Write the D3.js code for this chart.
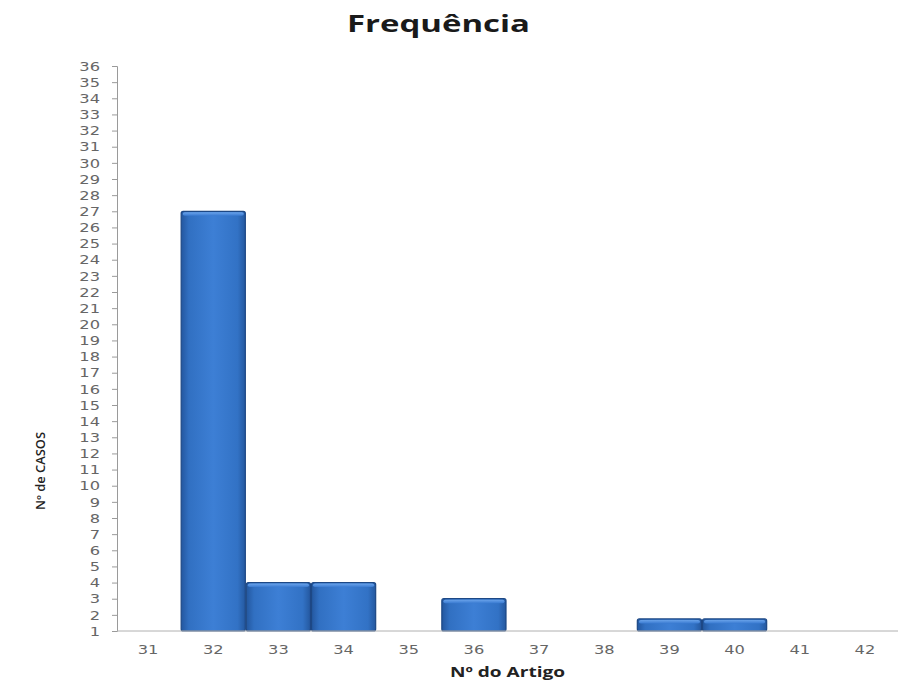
<!DOCTYPE html>
<html><head><meta charset="utf-8">
<script src="https://cdn.jsdelivr.net/npm/d3@7"></script>
<style>body{margin:0;background:#fff}svg{display:block}</style>
</head><body>
<svg id="c" width="912" height="693"></svg>
<script>
const categories = ["31","32","33","34","35","36","37","38","39","40","41","42"];
const values = [0, 27, 4, 4, 0, 3, 0, 0, 1.75, 1.75, 0, 0];
const yTicks = d3.range(1, 37);
const title = "Frequência";
const xTitle = "Nº do Artigo";
const yTitle = "Nº de CASOS";

const svg = d3.select("#c");
const x = d3.scaleBand().domain(categories).range([115.5, 897.5]).padding(0);
const y = d3.scaleLinear().domain([1, 36]).range([631, 66]);
const SX = 1.25;

const defs = svg.append("defs");
const g1 = defs.append("linearGradient").attr("id","bar").attr("x1","0").attr("x2","1").attr("y1","0").attr("y2","0");
[[0,"#23579f"],[0.12,"#3170c2"],[0.5,"#3d7fd5"],[0.88,"#3272c5"],[1,"#24589f"]].forEach(s=>g1.append("stop").attr("offset",s[0]).attr("stop-color",s[1]));
const g2 = defs.append("linearGradient").attr("id","top").attr("x1","0").attr("x2","0").attr("y1","0").attr("y2","1");
[[0,"#6aa3ea"],[1,"#3a7bd2"]].forEach(s=>g2.append("stop").attr("offset",s[0]).attr("stop-color",s[1]));

// title
svg.append("text").attr("x", 347).attr("y", 32)
  .attr("font-family","Open Sans").attr("font-weight","bold").attr("font-size",23)
  .attr("textLength",183).attr("lengthAdjust","spacingAndGlyphs")
  .attr("fill","#1a1a1a").text(title);

// bars
const data = categories.map((c,i)=>({c, v: values[i]})).filter(d=>d.v>0);
const bars = svg.append("g");
bars.selectAll("rect.b").data(data).enter().append("rect").attr("class","b")
  .attr("x", d=>x(d.c)+0.5).attr("width", x.bandwidth()-1)
  .attr("y", d=>y(d.v)).attr("height", d=>y(1)-y(d.v))
  .attr("rx",2).attr("fill","url(#bar)").attr("stroke","#1d4885").attr("stroke-width",1.2);
bars.selectAll("rect.t").data(data).enter().append("rect").attr("class","t")
  .attr("x", d=>x(d.c)+2).attr("width", x.bandwidth()-4)
  .attr("y", d=>y(d.v)+1).attr("height", 3.5)
  .attr("rx",2).attr("fill","url(#top)");

// y axis
const ya = svg.append("g").attr("transform","translate(117,0)")
  .call(d3.axisLeft(y).tickValues(yTicks).tickSize(5).tickPadding(17).tickFormat(d3.format("d")));
ya.select(".domain").attr("stroke","#9a9a9a");
ya.selectAll(".tick line").attr("stroke","#9a9a9a");
ya.selectAll("text").attr("font-family","DejaVu Sans").attr("font-size",13).attr("fill","#666")
  .attr("x", -17/SX).attr("transform",`scale(${SX},1)`);

// x axis
const xa = svg.append("g").attr("transform","translate(0,631)")
  .call(d3.axisBottom(x).tickSize(0).tickPadding(14));
xa.select(".domain").attr("stroke","#b0b0b0").attr("d","M117,0H898");
xa.selectAll("text").attr("font-family","DejaVu Sans").attr("font-size",13).attr("fill","#666")
  .attr("transform",`scale(${SX},1)`);

svg.append("text").attr("x", 450).attr("y", 677)
  .attr("font-family","Open Sans").attr("font-weight","bold").attr("font-size",14)
  .attr("textLength",115).attr("lengthAdjust","spacingAndGlyphs")
  .attr("fill","#222").text(xTitle);
svg.append("text").attr("transform","translate(45,471) rotate(-90)").attr("text-anchor","middle")
  .attr("font-family","Open Sans").attr("font-weight","600").attr("font-size",12)
  .attr("textLength",78).attr("lengthAdjust","spacingAndGlyphs")
  .attr("fill","#222").text(yTitle);
</script>
</body></html>
